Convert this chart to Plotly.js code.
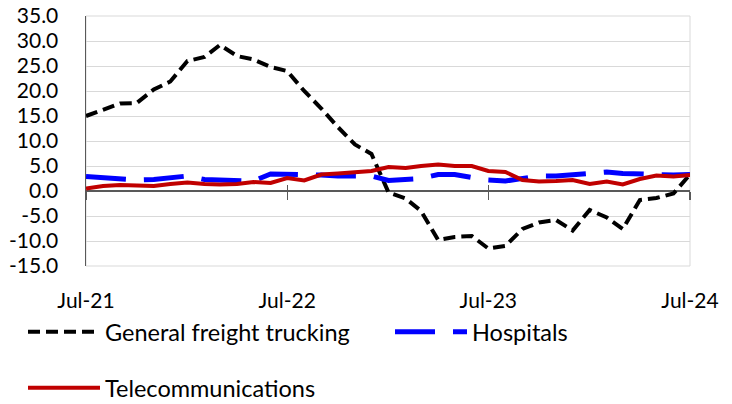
<!DOCTYPE html>
<html>
<head>
<meta charset="utf-8">
<script src="https://cdn.plot.ly/plotly-3.0.1.min.js"></script>
<style>html,body{margin:0;padding:0;background:#fff;}#chart{width:732px;height:404px;}</style>
</head>
<body>
<div id="chart"></div>
<script>
var months = ["2021-07-01","2021-08-01","2021-09-01","2021-10-01","2021-11-01","2021-12-01",
"2022-01-01","2022-02-01","2022-03-01","2022-04-01","2022-05-01","2022-06-01",
"2022-07-01","2022-08-01","2022-09-01","2022-10-01","2022-11-01","2022-12-01",
"2023-01-01","2023-02-01","2023-03-01","2023-04-01","2023-05-01","2023-06-01",
"2023-07-01","2023-08-01","2023-09-01","2023-10-01","2023-11-01","2023-12-01",
"2024-01-01","2024-02-01","2024-03-01","2024-04-01","2024-05-01","2024-06-01","2024-07-01"];

var trucking = [15.0,16.3,17.5,17.6,20.3,21.9,26.0,26.8,29.2,27.0,26.3,24.8,
24.0,20.0,16.5,12.8,9.3,7.4,-0.3,-1.5,-4.0,-9.8,-9.2,-9.0,
-11.5,-11.0,-7.6,-6.3,-5.8,-7.9,-3.8,-5.3,-7.6,-1.8,-1.4,-0.5,3.3];

var hospitals = [2.9,2.6,2.5,2.2,2.3,2.6,3.0,2.3,2.2,2.1,2.0,3.4,
3.4,3.3,3.2,3.0,2.9,3.0,2.1,2.3,2.5,3.3,3.3,2.7,
2.2,2.0,2.4,3.0,3.0,3.3,3.6,3.8,3.5,3.4,3.2,3.2,3.3];

var telecom = [0.5,1.0,1.2,1.2,1.0,1.4,1.7,1.4,1.3,1.4,1.8,1.6,
2.6,2.1,3.3,3.5,3.7,4.0,4.8,4.6,5.0,5.3,5.0,5.0,
4.0,3.8,2.2,1.9,2.0,2.2,1.4,1.9,1.3,2.4,3.1,2.9,3.2];

var seriesNames = ["General freight trucking","Hospitals","Telecommunications"];
var yTicks = [-15,-10,-5,0,5,10,15,20,25,30,35];

var FONT = "Lato, 'Open Sans', sans-serif";
var LEGFONT = {family: FONT, size: 23.5};

var traces = [
  {x: months, y: trucking, name: seriesNames[0], mode: "lines",
   line: {color: "#000000", width: 4, dash: "12px,6px"}, legend: "legend"},
  {x: months, y: hospitals, name: seriesNames[1], mode: "lines",
   line: {color: "#0000FF", width: 5, dash: "40px,18px"}, legend: "legend2"},
  {x: months, y: telecom, name: seriesNames[2], mode: "lines",
   line: {color: "#C00000", width: 4}, legend: "legend3"},
  {x: months, y: telecom, xaxis: "x2", yaxis: "y", mode: "lines", showlegend: false,
   hoverinfo: "skip", line: {width: 0}, opacity: 0},
  {x: months, y: telecom, xaxis: "x3", yaxis: "y", mode: "lines", showlegend: false,
   hoverinfo: "skip", line: {width: 0}, opacity: 0}
];

function legendAt(px, py) {
  return {orientation: "h", xref: "container", yref: "container",
          x: px / 732, xanchor: "left", y: 1 - py / 404, yanchor: "middle",
          font: LEGFONT, itemwidth: 72, bgcolor: "rgba(0,0,0,0)"};
}

var layout = {
  width: 732, height: 404,
  margin: {l: 86, r: 42, t: 16, b: 138},
  paper_bgcolor: "#ffffff", plot_bgcolor: "#ffffff",
  font: {family: FONT, size: 21, color: "#000000"},
  showlegend: true,
  xaxis: {
    type: "date", range: ["2021-07-01","2024-07-01"],
    tick0: "2021-07-01", dtick: "M12", tickformat: "%b-%y",
    showgrid: false, zeroline: false, showline: false, ticks: "",
    ticklabelstandoff: 20, tickfont: {family: FONT, size: 21}
  },
  xaxis2: {
    matches: "x", overlaying: "x", anchor: "free", position: 0.3,
    tick0: "2021-07-01", dtick: "M12", showticklabels: false,
    showgrid: false, zeroline: false, showline: false,
    ticks: "outside", ticklen: 8, tickwidth: 1.2, tickcolor: "#595959"
  },
  xaxis3: {
    matches: "x", overlaying: "x", anchor: "free", position: 0.3,
    tick0: "2021-07-01", dtick: "M12", showticklabels: false,
    showgrid: false, zeroline: false, showline: false,
    ticks: "inside", ticklen: 6, tickwidth: 1.2, tickcolor: "#595959"
  },
  yaxis: {
    range: [-15, 35], tickvals: yTicks,
    ticktext: yTicks.map(function(v){return v.toFixed(1);}),
    showgrid: true, gridcolor: "#d9d9d9", gridwidth: 1,
    zeroline: true, zerolinecolor: "#595959", zerolinewidth: 1.5,
    showline: true, linecolor: "#595959", linewidth: 1.5,
    ticks: "", ticklabelstandoff: 22, tickfont: {family: FONT, size: 21}
  },
  shapes: [{type: "rect", xref: "paper", yref: "paper", x0: 0, x1: 1, y0: 0, y1: 1,
            line: {color: "#d9d9d9", width: 1}, layer: "below"}],
  legend: legendAt(23, 332),
  legend2: legendAt(390, 332),
  legend3: legendAt(23, 388)
};

Plotly.newPlot("chart", traces, layout, {displayModeBar: false, staticPlot: true});
</script>
</body>
</html>
